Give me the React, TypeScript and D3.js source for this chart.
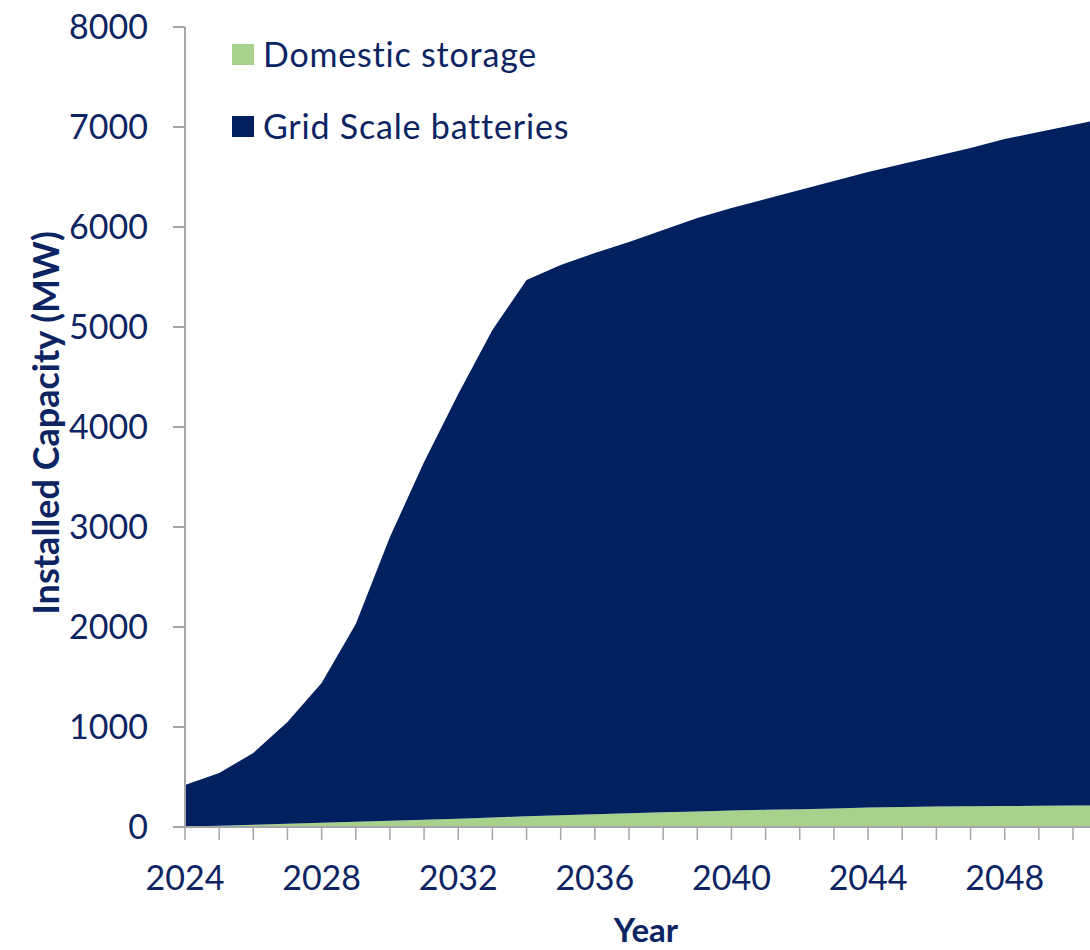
import React from "react";
import * as d3 from "d3";

const years = [2024, 2025, 2026, 2027, 2028, 2029, 2030, 2031, 2032, 2033, 2034, 2035, 2036, 2037, 2038, 2039, 2040, 2041, 2042, 2043, 2044, 2045, 2046, 2047, 2048, 2049, 2050, 2051];
const domesticStorage = [5, 12, 22, 32, 42, 52, 62, 72, 82, 95, 108, 118, 128, 138, 148, 156, 164, 172, 178, 186, 194, 200, 204, 207, 210, 212, 214, 216];
const gridScaleBatteries = [415, 528, 718, 1018, 1398, 1978, 2838, 3578, 4248, 4875, 5362, 5502, 5612, 5712, 5822, 5934, 6026, 6108, 6192, 6274, 6356, 6430, 6506, 6583, 6670, 6738, 6806, 6874];
const yTicks = [0, 1000, 2000, 3000, 4000, 5000, 6000, 7000, 8000];
const xLabelYears = [2024, 2028, 2032, 2036, 2040, 2044, 2048];
const seriesNames = ["Domestic storage", "Grid Scale batteries"];
const seriesColors = ["#a9d18e", "#002060"];

const W = 1090;
const H = 950;
const TEXT = "#0d2463";
const AXIS = "#a6a6a6";
const FONT = "Lato, 'Open Sans', sans-serif";

export default function App() {
  const x = d3.scaleLinear().domain([2024, 2050]).range([185, 1073]);
  const y = d3.scaleLinear().domain([0, 8000]).range([827, 27]);
  const rows = years.map((yr, i) => ({ year: yr, d: domesticStorage[i], g: gridScaleBatteries[i] }));
  const stack = d3.stack<any>().keys(["d", "g"]);
  const layers = stack(rows);
  const area = d3
    .area<any>()
    .x((p: any) => x(p.data.year))
    .y0((p: any) => y(p[0]))
    .y1((p: any) => y(p[1]));
  const tickYears = d3.range(2024, 2053);

  return (
    <svg width={W} height={H} style={{ position: "absolute", left: 0, top: 0, background: "#fff" }} fontFamily={FONT}>
      {layers.map((l, i) => (
        <path key={i} d={area(l as any) || ""} fill={seriesColors[i]} />
      ))}
      {/* y axis */}
      <line x1={185} x2={185} y1={y(8000)} y2={y(0) + 1} stroke={AXIS} strokeWidth={2} />
      {yTicks.map((t) => (
        <g key={t}>
          <line x1={173} x2={185} y1={y(t)} y2={y(t)} stroke={AXIS} strokeWidth={2} />
          <text x={148} y={y(t)} dy="0.36em" textAnchor="end" fontSize={34} fill={TEXT}>
            {t}
          </text>
        </g>
      ))}
      {/* x axis */}
      <line x1={184} x2={W} y1={y(0)} y2={y(0)} stroke={AXIS} strokeWidth={2} />
      {tickYears.map((t) => (
        <line key={t} x1={x(t)} x2={x(t)} y1={y(0)} y2={y(0) + 13} stroke={AXIS} strokeWidth={1.5} />
      ))}
      {xLabelYears.map((t) => (
        <text key={t} x={x(t)} y={890} textAnchor="middle" fontSize={34} fill={TEXT}>
          {t}
        </text>
      ))}
      <text x={646} y={942} textAnchor="middle" fontSize={33} fontWeight="bold" fill={TEXT}>
        Year
      </text>
      <text
        transform={`translate(59, ${y(4000) - 4}) rotate(-90)`}
        textAnchor="middle"
        fontSize={36}
        fontWeight="bold"
        fill={TEXT}
      >
        Installed Capacity (MW)
      </text>
      {/* legend */}
      {seriesNames.map((n, i) => (
        <g key={n} transform={`translate(232, ${44 + i * 72})`}>
          <rect x={0} y={0} width={22} height={21} fill={seriesColors[i]} />
          <text x={31} y={23} fontSize={34} letterSpacing={0.8} fill={TEXT}>
            {n}
          </text>
        </g>
      ))}
    </svg>
  );
}
